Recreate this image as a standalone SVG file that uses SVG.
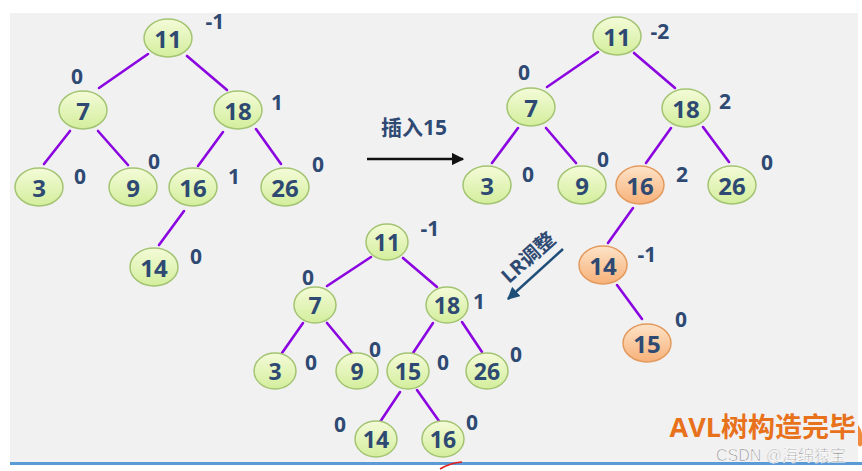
<svg xmlns="http://www.w3.org/2000/svg" width="862" height="471" viewBox="0 0 862 471">
<defs>
<linearGradient id="gg" x1="0" y1="0" x2="0" y2="1">
<stop offset="0" stop-color="#f4fbd8"/>
<stop offset="1" stop-color="#d3ee9c"/>
</linearGradient>
<linearGradient id="og" x1="0" y1="0" x2="0" y2="1">
<stop offset="0" stop-color="#fde3c8"/>
<stop offset="1" stop-color="#f7b179"/>
</linearGradient>
<marker id="ahb" viewBox="0 0 10 10" refX="9" refY="5" markerWidth="5" markerHeight="5" orient="auto">
<path d="M0,0 L10,5 L0,10 z" fill="#111"/>
</marker>
<marker id="ahd" viewBox="0 0 10 10" refX="9" refY="5" markerWidth="5" markerHeight="5" orient="auto">
<path d="M0,0 L10,5 L0,10 z" fill="#1f4e79"/>
</marker>
<style>
.g{fill:url(#gg);stroke:#a3c472;stroke-width:1.5}
.o{fill:url(#og);stroke:#e39a5e;stroke-width:1.5}
.n{font-family:"Open Sans","DejaVu Sans",sans-serif;font-weight:bold;font-size:24px;fill:#2e4a73;text-anchor:middle;dominant-baseline:central}
.ns{font-size:23px}
.l{font-family:"Open Sans","DejaVu Sans",sans-serif;font-weight:bold;font-size:21px;fill:#2e4a73;text-anchor:middle;dominant-baseline:central}
.e{stroke:#8a05e0;stroke-width:2.6;fill:none;stroke-linecap:round}
</style>
</defs>
<rect width="862" height="471" fill="#ffffff"/>
<rect x="10" y="13" width="848" height="451" fill="#f2f1f2"/>
<rect x="10" y="462" width="852" height="3" fill="#5b9bd5"/>
<path d="M858,425 Q862,430 862,435 L862,445 Q860,448 858,445 Z" fill="#f08a3c"/>

<g id="connectors">
<line class="e" x1="148" y1="54" x2="99" y2="88"/>
<line class="e" x1="187" y1="56" x2="227" y2="90"/>
<line class="e" x1="70" y1="131" x2="44" y2="164"/>
<line class="e" x1="98" y1="131" x2="128" y2="165"/>
<line class="e" x1="223" y1="132" x2="198" y2="166"/>
<line class="e" x1="256" y1="129" x2="281" y2="164"/>
<line class="e" x1="184" y1="211" x2="159" y2="245"/>
<line class="e" x1="598" y1="52" x2="547" y2="87"/>
<line class="e" x1="634" y1="53" x2="675" y2="88"/>
<line class="e" x1="518" y1="128" x2="492" y2="163"/>
<line class="e" x1="546" y1="128" x2="576" y2="163"/>
<line class="e" x1="671" y1="128" x2="646" y2="163"/>
<line class="e" x1="703" y1="127" x2="729" y2="162"/>
<line class="e" x1="633" y1="208" x2="608" y2="243"/>
<line class="e" x1="617" y1="285" x2="642" y2="319"/>
<line class="e" x1="371" y1="257" x2="327" y2="286"/>
<line class="e" x1="403" y1="258" x2="437" y2="287"/>
<line class="e" x1="303" y1="323" x2="282" y2="353"/>
<line class="e" x1="327" y1="323" x2="352" y2="353"/>
<line class="e" x1="433" y1="323" x2="413" y2="353"/>
<line class="e" x1="462" y1="322" x2="482" y2="352"/>
<line class="e" x1="400" y1="392" x2="380" y2="422"/>
<line class="e" x1="417" y1="390" x2="439" y2="421"/>
<line x1="367" y1="159" x2="463" y2="159" stroke="#111" stroke-width="2.5" marker-end="url(#ahb)"/>
<line x1="563" y1="249" x2="508" y2="299" stroke="#1f4e79" stroke-width="2.5" marker-end="url(#ahd)"/>
</g>

<g id="t1-11"><ellipse class="g" cx="168" cy="38" rx="24" ry="19"/><text class="n" x="168" y="38">11</text></g>
<g id="t1-7"><ellipse class="g" cx="83" cy="110" rx="24" ry="19"/><text class="n" x="83" y="110">7</text></g>
<g id="t1-18"><ellipse class="g" cx="238" cy="110" rx="24" ry="19"/><text class="n" x="238" y="110">18</text></g>
<g id="t1-3"><ellipse class="g" cx="39" cy="187" rx="24" ry="19"/><text class="n" x="39" y="187">3</text></g>
<g id="t1-9"><ellipse class="g" cx="133" cy="187" rx="24" ry="19"/><text class="n" x="133" y="187">9</text></g>
<g id="t1-16"><ellipse class="g" cx="193" cy="187" rx="24" ry="19"/><text class="n" x="193" y="187">16</text></g>
<g id="t1-26"><ellipse class="g" cx="285" cy="187" rx="24" ry="19"/><text class="n" x="285" y="187">26</text></g>
<g id="t1-14"><ellipse class="g" cx="154" cy="267" rx="24" ry="19"/><text class="n" x="154" y="267">14</text></g>
<g id="t1-labels">
<text class="l" x="215" y="21">-1</text>
<text class="l" x="77" y="76">0</text>
<text class="l" x="277" y="102">1</text>
<text class="l" x="80" y="176">0</text>
<text class="l" x="154" y="161">0</text>
<text class="l" x="234" y="176">1</text>
<text class="l" x="318" y="164">0</text>
<text class="l" x="196" y="256">0</text>
</g>

<g id="t2-11"><ellipse class="g" cx="617" cy="36" rx="24" ry="19"/><text class="n" x="617" y="36">11</text></g>
<g id="t2-7"><ellipse class="g" cx="531" cy="107" rx="24" ry="19"/><text class="n" x="531" y="107">7</text></g>
<g id="t2-18"><ellipse class="g" cx="686" cy="108" rx="24" ry="19"/><text class="n" x="686" y="108">18</text></g>
<g id="t2-3"><ellipse class="g" cx="487" cy="185" rx="24" ry="19"/><text class="n" x="487" y="185">3</text></g>
<g id="t2-9"><ellipse class="g" cx="582" cy="185" rx="24" ry="19"/><text class="n" x="582" y="185">9</text></g>
<g id="t2-16"><ellipse class="o" cx="640" cy="185" rx="24" ry="19"/><text class="n" x="640" y="185">16</text></g>
<g id="t2-26"><ellipse class="g" cx="732" cy="185" rx="24" ry="19"/><text class="n" x="732" y="185">26</text></g>
<g id="t2-14"><ellipse class="o" cx="603" cy="265" rx="24" ry="19"/><text class="n" x="603" y="265">14</text></g>
<g id="t2-15"><ellipse class="o" cx="647" cy="343" rx="24" ry="19"/><text class="n" x="647" y="343">15</text></g>
<g id="t2-labels">
<text class="l" x="660" y="31">-2</text>
<text class="l" x="524" y="72">0</text>
<text class="l" x="725" y="101">2</text>
<text class="l" x="528" y="174">0</text>
<text class="l" x="603" y="159">0</text>
<text class="l" x="682" y="174">2</text>
<text class="l" x="767" y="162">0</text>
<text class="l" x="647" y="254">-1</text>
<text class="l" x="681" y="319">0</text>
</g>

<g id="t3-11"><ellipse class="g" cx="387" cy="242" rx="21" ry="18"/><text class="n ns" x="387" y="242">11</text></g>
<g id="t3-7"><ellipse class="g" cx="315" cy="305" rx="21" ry="18"/><text class="n ns" x="315" y="305">7</text></g>
<g id="t3-18"><ellipse class="g" cx="447" cy="305" rx="21" ry="18"/><text class="n ns" x="447" y="305">18</text></g>
<g id="t3-3"><ellipse class="g" cx="275" cy="371" rx="21" ry="18"/><text class="n ns" x="275" y="371">3</text></g>
<g id="t3-9"><ellipse class="g" cx="357" cy="371" rx="21" ry="18"/><text class="n ns" x="357" y="371">9</text></g>
<g id="t3-15"><ellipse class="g" cx="408" cy="371" rx="21" ry="18"/><text class="n ns" x="408" y="371">15</text></g>
<g id="t3-26"><ellipse class="g" cx="487" cy="371" rx="21" ry="18"/><text class="n ns" x="487" y="371">26</text></g>
<g id="t3-14"><ellipse class="g" cx="376" cy="439" rx="21" ry="18"/><text class="n ns" x="376" y="439">14</text></g>
<g id="t3-16"><ellipse class="g" cx="443" cy="439" rx="21" ry="18"/><text class="n ns" x="443" y="439">16</text></g>
<g id="t3-labels">
<text class="l" x="430" y="228">-1</text>
<text class="l" x="308" y="277">0</text>
<text class="l" x="479" y="301">1</text>
<text class="l" x="311" y="362">0</text>
<text class="l" x="375" y="349">0</text>
<text class="l" x="443" y="362">0</text>
<text class="l" x="516" y="354">0</text>
<text class="l" x="340" y="424">0</text>
<text class="l" x="472" y="422">0</text>
</g>

<g id="captions">
<text x="414" y="127" font-family="'Open Sans','Noto Sans CJK SC',sans-serif" font-weight="bold" font-size="21" fill="#2e4a73" text-anchor="middle" dominant-baseline="central">插入15</text>
<text x="528" y="257" transform="rotate(-42 528 257)" font-family="'Open Sans','Noto Sans CJK SC',sans-serif" font-weight="bold" font-size="20" fill="#2e4a73" text-anchor="middle" dominant-baseline="central">LR调整</text>
<text x="856" y="437" font-family="'Open Sans','Noto Sans CJK SC',sans-serif" font-weight="bold" font-size="27" fill="#e8711c" text-anchor="end">AVL树构造完毕</text>
<text x="846" y="461" font-family="'Liberation Sans','Noto Sans CJK SC',sans-serif" font-size="16" fill="#8a8a8a" stroke="#ffffff" stroke-width="0.6" text-anchor="end">CSDN @海绵猿宝</text>
<path d="M440,469 Q450,463 462,462" stroke="#e02020" stroke-width="1.6" fill="none"/>
</g>
</svg>
